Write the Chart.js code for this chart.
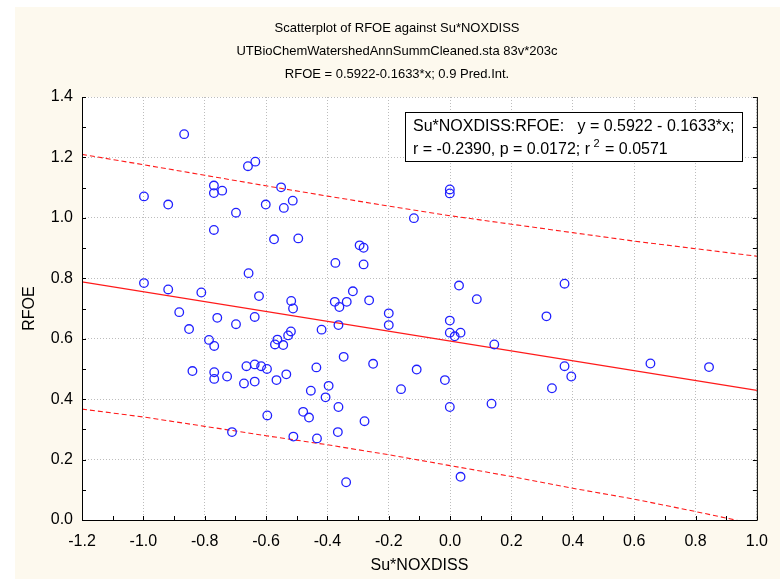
<!DOCTYPE html>
<html>
<head>
<meta charset="utf-8">
<script src="https://cdn.jsdelivr.net/npm/chart.js@4.4.1/dist/chart.umd.min.js"></script>
<style>
  html, body { margin: 0; padding: 0; background: #fff; }
  canvas { display: block; }
</style>
</head>
<body>
<canvas id="scatterChart" width="780" height="579"></canvas>
<script>
// scatter of RFOE against Su*NOXDISS

const xVals = [
  -0.867, -0.998, -0.919, -0.659, -0.635, -0.770, -0.770, -0.743, -0.698, -0.770,
  -0.601, -0.551, -0.542, -0.513, -0.574, -0.495, -0.657, -0.998, -0.919, -0.811,
  -0.623, -0.518, -0.883, -0.001, -0.001, -0.118, -0.295, -0.282, -0.374, -0.282,
   0.029,  0.087, -0.317, -0.376, -0.337, -0.361, -0.264, -0.512,  0.373, -0.851,
  -0.759, -0.698, -0.637, -0.786, -0.769, -0.571, -0.563, -0.544, -0.528, -0.519,
  -0.840, -0.769, -0.769, -0.727, -0.672, -0.664, -0.637, -0.616, -0.597, -0.637,
  -0.566, -0.534, -0.596, -0.711, -0.511, -0.200, -0.200, -0.364, -0.419, -0.001,
  -0.001,  0.015,  0.034,  0.144, -0.347, -0.436, -0.251, -0.109, -0.017, -0.396,
  -0.454, -0.160, -0.406, -0.364, -0.001,  0.135, -0.479, -0.460, -0.279, -0.434,
  -0.366, -0.339,  0.034,  0.314,  0.373,  0.395,  0.332,  0.653,  0.844
];
const yVals = [
  1.277, 1.071, 1.044, 1.171, 1.186, 1.107, 1.082, 1.090, 1.017, 0.960,
  1.044, 1.101, 1.033, 1.057, 0.929, 0.932, 0.817, 0.784, 0.763, 0.753,
  0.741, 0.725, 0.688, 1.094, 1.081, 0.999, 0.909, 0.901, 0.851, 0.846,
  0.776, 0.731, 0.757, 0.722, 0.722, 0.705, 0.727, 0.700, 0.782, 0.632,
  0.669, 0.648, 0.672, 0.596, 0.576, 0.581, 0.597, 0.579, 0.611, 0.624,
  0.493, 0.489, 0.467, 0.475, 0.452, 0.509, 0.515, 0.509, 0.500, 0.458,
  0.463, 0.482, 0.346, 0.291, 0.276, 0.684, 0.645, 0.645, 0.630, 0.660,
  0.620, 0.608, 0.620, 0.581, 0.540, 0.505, 0.517, 0.498, 0.463, 0.444,
  0.428, 0.433, 0.406, 0.374, 0.374, 0.385, 0.358, 0.339, 0.327, 0.270,
  0.291, 0.125, 0.143, 0.674, 0.509, 0.475, 0.436, 0.518, 0.506
];

// fitted line and 0.9 prediction interval
const fitX = [-1.2, 1.0];
const fitY = [0.788, 0.429];
const bandX = [-1.2, -1.0, -0.8, -0.6, -0.4, -0.2, 0.0, 0.2, 0.4, 0.6, 0.8, 1.0];
const upperY = [1.210, 1.176, 1.141, 1.106, 1.072, 1.039, 1.007, 0.979, 0.951, 0.923, 0.898, 0.873];
const lowerY = [0.367, 0.341, 0.310, 0.279, 0.249, 0.216, 0.180, 0.144, 0.105, 0.069, 0.028, -0.015];

const xTicks = [-1.2, -1.0, -0.8, -0.6, -0.4, -0.2, 0.0, 0.2, 0.4, 0.6, 0.8, 1.0];
const yTicks = [0.0, 0.2, 0.4, 0.6, 0.8, 1.0, 1.2, 1.4];

const titleLines = [
  "Scatterplot of RFOE against Su*NOXDISS",
  "UTBioChemWatershedAnnSummCleaned.sta 83v*203c",
  "RFOE = 0.5922-0.1633*x; 0.9 Pred.Int."
];
const xTitle = "Su*NOXDISS";
const yTitle = "RFOE";

const FONT = "'Liberation Sans', Arial, sans-serif";
const zip = (xs, ys) => xs.map((x, i) => ({ x, y: ys[i] }));
const fmt = v => (Math.abs(v) < 1e-9 ? 0 : v).toFixed(1);

const paperPlugin = {
  id: "paper",
  beforeDraw(chart) {
    const { ctx, chartArea: a } = chart;
    ctx.save();
    ctx.fillStyle = "#ffffff";
    ctx.fillRect(0, 0, chart.width, chart.height);
    ctx.fillStyle = "#fdf9ee";
    ctx.fillRect(15, 7, chart.width - 15, chart.height - 7);
    ctx.fillStyle = "#ffffff";
    ctx.fillRect(a.left, a.top, a.right - a.left, a.bottom - a.top);
    ctx.restore();
  }
};

const framePlugin = {
  id: "frame",
  afterDatasetsDraw(chart) {
    const { ctx, chartArea: a, scales } = chart;
    ctx.save();
    ctx.strokeStyle = "#000";
    ctx.lineWidth = 1;
    ctx.beginPath();
    ctx.moveTo(a.left + 0.5, a.top);
    ctx.lineTo(a.left + 0.5, a.bottom + 0.5);
    ctx.lineTo(a.right + 0.5, a.bottom + 0.5);
    ctx.lineTo(a.right + 0.5, a.top);
    // inward ticks every 0.1
    for (let i = -12; i <= 10; i++) {
      const px = Math.round(scales.x.getPixelForValue(i / 10)) + 0.5;
      ctx.moveTo(px, a.bottom);
      ctx.lineTo(px, a.bottom - 4);
    }
    for (let i = 0; i <= 14; i++) {
      const py = Math.round(scales.y.getPixelForValue(i / 10)) + 0.5;
      ctx.moveTo(a.left, py);
      ctx.lineTo(a.left + 4, py);
      ctx.moveTo(a.right, py);
      ctx.lineTo(a.right - 4, py);
    }
    ctx.stroke();
    ctx.restore();
  },
  afterDraw(chart) {
    const { ctx, chartArea: a } = chart;
    ctx.save();
    ctx.fillStyle = "#000";
    ctx.textBaseline = "middle";

    // titles
    ctx.textAlign = "center";
    ctx.font = "13px " + FONT;
    titleLines.forEach((t, i) => ctx.fillText(t, 397, 28 + i * 23));

    // axis titles
    ctx.font = "16px " + FONT;
    ctx.fillText(xTitle, (a.left + a.right) / 2, 566);
    ctx.save();
    ctx.translate(30, (a.top + a.bottom) / 2);
    ctx.rotate(-Math.PI / 2);
    ctx.fillText(yTitle, 0, 0);
    ctx.restore();

    // regression box
    ctx.fillStyle = "#fff";
    ctx.fillRect(405, 112, 337, 49);
    ctx.strokeStyle = "#000";
    ctx.lineWidth = 1;
    ctx.strokeRect(405.5, 112.5, 337, 49);
    ctx.fillStyle = "#000";
    ctx.textAlign = "left";
    ctx.font = "16px " + FONT;
    ctx.fillText("Su*NOXDISS:RFOE:   y = 0.5922 - 0.1633*x;", 413, 127);
    const s = "r = -0.2390, p = 0.0172; r ";
    ctx.fillText(s, 413, 150);
    let w = ctx.measureText(s).width;
    ctx.font = "11px " + FONT;
    ctx.fillText("2", 413 + w - 1, 144);
    w += ctx.measureText("2").width;
    ctx.font = "16px " + FONT;
    ctx.fillText(" = 0.0571", 413 + w, 150);
    ctx.restore();
  }
};

new Chart(document.getElementById("scatterChart"), {
  type: "scatter",
  data: {
    datasets: [
      {
        label: "RFOE",
        data: zip(xVals, yVals),
        pointStyle: "circle",
        pointRadius: 4.3,
        pointBorderWidth: 1.3,
        borderColor: "#2020ff",
        backgroundColor: "rgba(0,0,0,0)",
        order: 0
      },
      {
        label: "fit",
        type: "line",
        data: zip(fitX, fitY),
        borderColor: "#ff1a1a",
        borderWidth: 1.1,
        pointRadius: 0,
        fill: false,
        order: 1
      },
      {
        label: "upper",
        type: "line",
        data: zip(bandX, upperY),
        borderColor: "#ff1a1a",
        borderWidth: 1.1,
        borderDash: [5, 3],
        pointRadius: 0,
        fill: false,
        order: 1
      },
      {
        label: "lower",
        type: "line",
        data: zip(bandX, lowerY),
        borderColor: "#ff1a1a",
        borderWidth: 1.1,
        borderDash: [5, 3],
        pointRadius: 0,
        fill: false,
        order: 1
      }
    ]
  },
  options: {
    responsive: false,
    animation: false,
    devicePixelRatio: 1,
    layout: { padding: { top: 97, right: 17, left: 0, bottom: 0 } },
    plugins: {
      legend: { display: false },
      title: { display: false },
      tooltip: { enabled: false }
    },
    scales: {
      x: {
        type: "linear",
        min: -1.2,
        max: 1.0,
        afterBuildTicks: s => { s.ticks = xTicks.map(v => ({ value: v })); },
        afterFit: s => { s.height = 59; },
        grid: { color: "#bdbdbd", drawTicks: false, tickLength: 0 },
        border: { display: false, dash: [1, 2] },
        ticks: {
          autoSkip: false,
          maxRotation: 0,
          padding: 12,
          color: "#000",
          font: { family: FONT, size: 16 },
          callback: v => fmt(v)
        }
      },
      y: {
        type: "linear",
        min: 0,
        max: 1.4,
        afterBuildTicks: s => { s.ticks = yTicks.map(v => ({ value: v })); },
        afterFit: s => { s.width = 82; },
        grid: { color: "#bdbdbd", drawTicks: false, tickLength: 0 },
        border: { display: false, dash: [1, 2] },
        ticks: {
          autoSkip: false,
          padding: 9,
          color: "#000",
          font: { family: FONT, size: 16 },
          callback: v => fmt(v)
        }
      }
    }
  },
  plugins: [paperPlugin, framePlugin]
});
</script>
</body>
</html>
